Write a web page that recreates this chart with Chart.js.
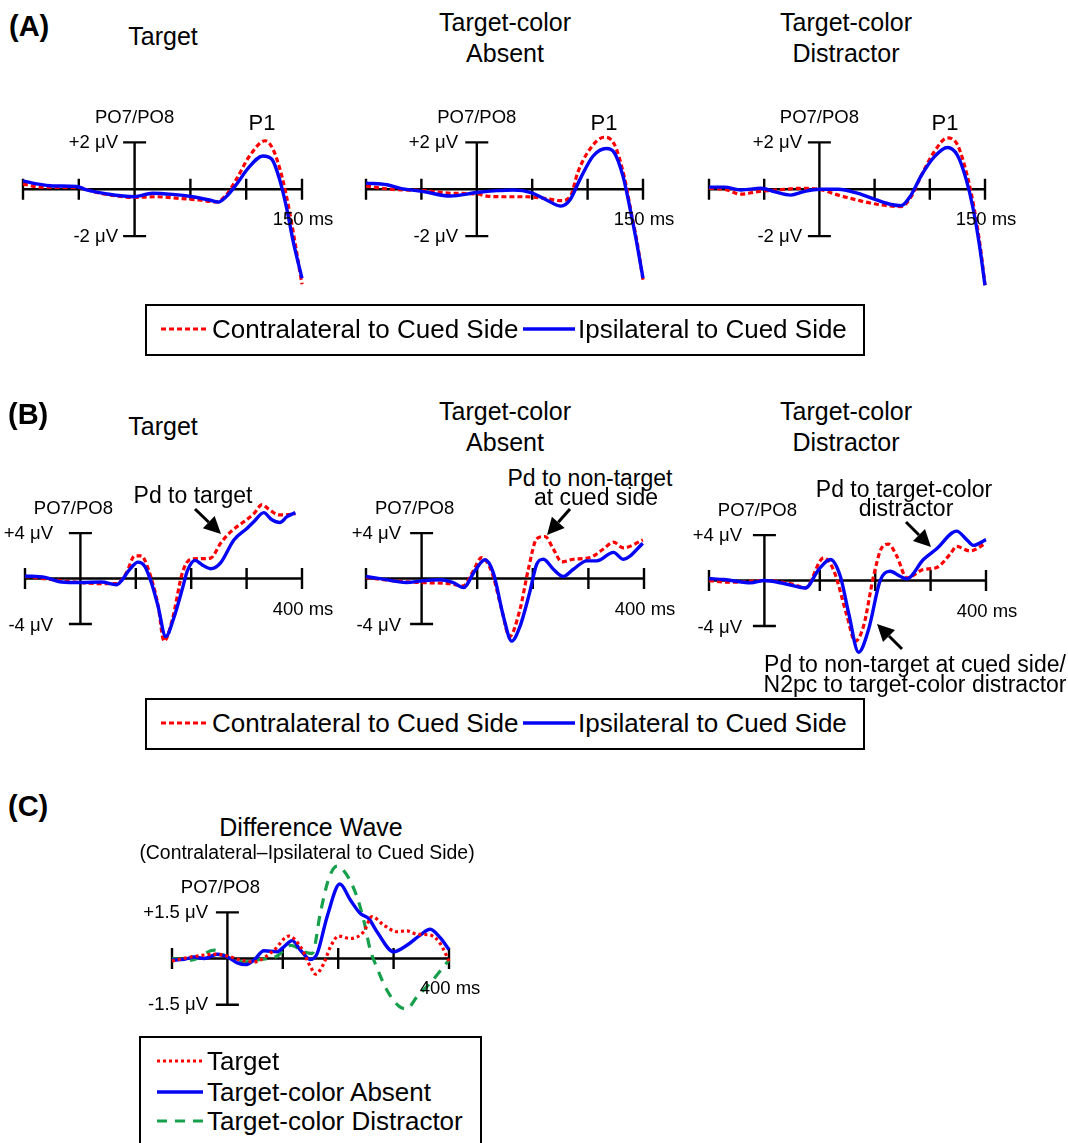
<!DOCTYPE html>
<html>
<head>
<meta charset="utf-8">
<script src="https://cdn.jsdelivr.net/npm/chart.js@4.4.1/dist/chart.umd.min.js"></script>
<style>
  html, body { margin: 0; padding: 0; background: #fff; }
  body {
    width: 1068px; height: 1143px; position: relative; overflow: hidden;
    font-family: "Liberation Sans", Arial, sans-serif; color: #000;
  }
  .plot { position: absolute; }
  .lbl { position: absolute; white-space: pre; line-height: 1; }
  .box { position: absolute; border: 2.5px solid #000; box-sizing: border-box; }
  #arrows { position: absolute; left: 0; top: 0; z-index: 5; }
</style>
</head>
<body>
<svg id="arrows" width="1068" height="1143"></svg>
<script>
// ---- data: [time (ms), amplitude (µV)] ----
const a1Contra = [[-100,0.23],[-85,0.09],[-52,0.07],[-31,-0.17],[0,-0.35],[19,-0.32],[40,-0.39],[58,-0.46],[73,-0.54],[82,-0.25],[91,0.41],[103,1.42],[117,2.07],[124,1.71],[132,0.55],[138,-0.75],[144,-2.35],[150,-4.06]];
const a1Ipsi = [[-100,0.36],[-88,0.23],[-73,0.14],[-52,0.12],[-43,-0.03],[-25,-0.2],[0,-0.32],[16,-0.17],[34,-0.22],[52,-0.32],[67,-0.46],[75,-0.55],[82,-0.32],[91,0.19],[102,0.91],[115,1.42],[123,1.28],[130,0.41],[136,-0.75],[142,-2.2],[150,-3.8]];
const a2Contra = [[-100,0.14],[-78,0],[-48,-0.06],[-24,-0.17],[0,-0.2],[9,-0.29],[27,-0.32],[45,-0.32],[61,-0.39],[76,-0.49],[85,-0.25],[91,0.7],[102,1.71],[115,2.22],[124,1.93],[133,0.55],[139,-0.9],[145,-2.35],[150,-3.87]];
const a2Ipsi = [[-100,0.26],[-81,0.19],[-69,0.04],[-48,-0.1],[-24,-0.29],[0,-0.14],[18,-0.06],[33,-0.03],[49,-0.14],[63,-0.46],[76,-0.72],[84,-0.46],[93,0.41],[105,1.42],[117,1.74],[124,1.57],[132,0.55],[138,-0.75],[144,-2.2],[150,-3.8]];
const a3Contra = [[-100,0.04],[-86,0],[-71,-0.21],[-56,-0.1],[-38,-0.03],[-17,0.04],[0,0],[17,-0.25],[35,-0.47],[53,-0.65],[74,-0.74],[83,-0.33],[92,0.56],[104,1.6],[116,2.19],[125,1.9],[134,0.56],[140,-0.77],[146,-2.55],[150,-4.1]];
const a3Ipsi = [[-100,0.09],[-86,0.09],[-71,-0.03],[-53,0.04],[-41,-0.1],[-26,-0.25],[-14,-0.1],[0,0],[17,0],[35,-0.18],[51,-0.44],[65,-0.65],[74,-0.7],[83,-0.25],[92,0.56],[104,1.38],[116,1.78],[125,1.45],[133,0.41],[139,-0.77],[145,-2.4],[150,-4.1]];

const b1Contra = [[-100,0.2],[-50,-0.1],[0,-0.35],[40,-0.45],[65,-0.45],[83,0.5],[98,2.0],[110,2.0],[122,0.9],[140,-2.3],[151,-5.5],[166,-3.6],[184,0.5],[199,1.7],[217,1.75],[235,1.8],[253,3.1],[271,4.1],[295,5.0],[313,5.7],[328,6.5],[340,6.1],[358,5.6],[370,5.6],[388,5.7]];
const b1Ipsi = [[-100,0.23],[-64,0.1],[-34,-0.3],[0,-0.35],[38,-0.3],[65,-0.55],[74,-0.2],[89,0.8],[104,1.45],[116,1.1],[128,-0.35],[140,-2.4],[154,-5.1],[169,-3.4],[184,-0.9],[193,0.67],[207,1.6],[220,1.2],[235,0.87],[253,1.39],[277,3.4],[301,4.43],[313,5.0],[331,5.8],[345,5.2],[360,4.93],[373,5.45],[388,5.8]];
const b2Contra = [[-100,0.1],[-50,-0.2],[0,-0.35],[50,-0.45],[75,-0.65],[92,0.6],[108,1.85],[126,0.6],[144,-2.7],[158,-5.1],[177,-2.7],[192,0.82],[207,3.5],[222,3.7],[237,2.6],[252,1.47],[273,1.7],[303,1.85],[327,2.6],[345,3.2],[363,2.7],[398,3.4]];
const b2Ipsi = [[-100,0.18],[-75,0],[-27,-0.35],[0,-0.2],[33,-0.1],[57,-0.35],[75,-0.8],[96,0.7],[114,1.65],[129,0.5],[147,-3.3],[162,-5.5],[177,-4.2],[195,-1.1],[207,1.26],[219,1.7],[237,0.82],[255,0.18],[273,0.82],[297,1.56],[315,1.56],[345,2.3],[363,1.7],[398,3.1]];
const b3Contra = [[-100,0],[-60,-0.15],[0,0],[50,-0.3],[74,-0.65],[107,2.0],[125,0.9],[149,-3.1],[164,-5.35],[179,-4],[197,0.38],[212,2.9],[224,3.2],[239,2.15],[257,0.24],[287,0.97],[311,1.15],[335,2.3],[347,3.0],[371,2.6],[400,3.3]];
const b3Ipsi = [[-100,0.18],[-73,0.09],[-25,-0.2],[0,0],[35,-0.26],[74,-0.65],[98,0.97],[119,1.85],[137,0.38],[152,-2.85],[170,-6.3],[188,-4.3],[209,0],[227,0.82],[245,0.38],[257,0.15],[287,1.85],[311,2.8],[347,4.35],[365,3.6],[377,3.1],[400,3.6]];

const cTarget = [[-100,-0.08],[-66,0.05],[-18,0.14],[0,0.08],[24,-0.05],[48,-0.11],[84,0.27],[111,0.73],[132,0.38],[150,-0.27],[159,-0.51],[174,-0.16],[186,0.38],[201,0.73],[222,0.65],[246,0.87],[261,1.36],[282,1.09],[306,0.87],[324,0.9],[342,0.79],[366,0.76],[384,0.49],[400,-0.08]];
const cAbsent = [[-100,-0.05],[-78,-0.03],[-60,0.05],[-42,0],[-18,0.14],[0,0.05],[18,-0.14],[33,-0.2],[48,-0.05],[66,0.25],[90,0.22],[102,0.38],[117,0.58],[132,0.27],[150,-0.03],[162,0.16],[180,1.36],[203,2.42],[222,1.9],[240,1.46],[255,1.3],[270,0.87],[300,0.22],[324,0.43],[348,0.76],[366,0.95],[384,0.68],[400,0.29]];
const cDistractor = [[-100,0],[-66,-0.05],[-24,0.27],[0,0.05],[30,-0.11],[60,-0.03],[90,0.08],[114,0.43],[138,0.22],[153,0.16],[168,1.5],[183,2.6],[198,3.0],[216,2.7],[234,2.0],[246,1.25],[258,0.27],[270,-0.3],[288,-1.03],[312,-1.58],[324,-1.63],[342,-1.25],[366,-0.8],[400,-0.05]];

const conditionTitles = [["Target"], ["Target-color", "Absent"], ["Target-color", "Distractor"]];
const legendLabelsAB = ["Contralateral to Cued Side", "Ipsilateral to Cued Side"];
const legendLabelsC = ["Target", "Target-color Absent", "Target-color Distractor"];
const channelName = "PO7/PO8";

// ---- line styles ----
const styles = {
  contra: { color: "#ff0000", width: 3.2, dash: [5, 3], order: 1 },
  ipsi: { color: "#0505f5", width: 3.4, dash: [], order: 0 },
  target: { color: "#ff0000", width: 3.2, dash: [3, 3], order: 0 },
  absent: { color: "#0505f5", width: 3.4, dash: [], order: 1 },
  distractor: { color: "#16a04c", width: 3.2, dash: [10, 8], order: 2 },
};

// the cross-shaped ERP axes, drawn under the waves
const erpAxes = {
  id: "erpAxes",
  beforeDatasetsDraw(chart, args, opts) {
    const { ctx, scales: { x, y } } = chart;
    const y0 = y.getPixelForValue(0);
    const x0 = x.getPixelForValue(0);
    ctx.save();
    ctx.strokeStyle = "#000";
    ctx.lineWidth = 2.4;
    ctx.beginPath();
    ctx.moveTo(x.getPixelForValue(x.min), y0);
    ctx.lineTo(x.getPixelForValue(x.max), y0);
    for (let t = x.min; t <= x.max; t += opts.step) {
      const px = x.getPixelForValue(t);
      ctx.moveTo(px, y0 - 10.5);
      ctx.lineTo(px, y0 + 10.5);
    }
    const yt = y.getPixelForValue(opts.cap);
    const yb = y.getPixelForValue(-opts.cap);
    ctx.moveTo(x0, yt); ctx.lineTo(x0, yb);
    ctx.moveTo(x0 - 11.5, yt); ctx.lineTo(x0 + 11.5, yt);
    ctx.moveTo(x0 - 11.5, yb); ctx.lineTo(x0 + 11.5, yb);
    ctx.stroke();
    ctx.restore();
  },
};

const PAD = 8;

function addText(txt, x, y, size, align, weight) {
  const d = document.createElement("div");
  d.className = "lbl";
  d.textContent = txt;
  d.style.left = x + "px";
  d.style.top = y + "px";
  d.style.fontSize = size + "px";
  const tx = align === "center" ? "-50%" : align === "right" ? "-100%" : "0";
  d.style.transform = `translate(${tx}, -50%)`;
  if (weight) d.style.fontWeight = weight;
  document.body.appendChild(d);
}

function addArrow(x1, y1, x2, y2) {
  const svg = document.getElementById("arrows");
  const ns = "http://www.w3.org/2000/svg";
  const a = Math.atan2(y2 - y1, x2 - x1);
  const hl = 17, hw = 8.5;
  const bx = x2 - hl * Math.cos(a), by = y2 - hl * Math.sin(a);
  const line = document.createElementNS(ns, "line");
  line.setAttribute("x1", x1); line.setAttribute("y1", y1);
  line.setAttribute("x2", bx); line.setAttribute("y2", by);
  line.setAttribute("stroke", "#000"); line.setAttribute("stroke-width", 3);
  svg.appendChild(line);
  const head = document.createElementNS(ns, "polygon");
  const pts = [
    [x2, y2],
    [bx + hw * Math.sin(a), by - hw * Math.cos(a)],
    [bx - hw * Math.sin(a), by + hw * Math.cos(a)],
  ];
  head.setAttribute("points", pts.map((p) => p.join(",")).join(" "));
  head.setAttribute("fill", "#000");
  svg.appendChild(head);
}

function makePlot(p) {
  const areaW = p.right - p.left;
  const areaH = (p.yMax - p.yMin) * p.ppu;
  const w = Math.round(areaW + 2 * PAD);
  const h = Math.round(areaH + 2 * PAD);
  const cv = document.createElement("canvas");
  cv.className = "plot";
  cv.width = w;
  cv.height = h;
  cv.style.width = w + "px";
  cv.style.height = h + "px";
  cv.style.left = p.left - PAD + "px";
  cv.style.top = p.zeroY - p.yMax * p.ppu - PAD + "px";
  document.body.appendChild(cv);

  const datasets = p.series.map(([data, key]) => {
    const s = styles[key];
    return {
      data: data.map(([t, v]) => ({ x: t, y: v })),
      borderColor: s.color,
      borderWidth: s.width,
      borderDash: s.dash,
      order: s.order,
      pointRadius: 0,
      cubicInterpolationMode: "monotone",
      fill: false,
      clip: false,
    };
  });

  new Chart(cv, {
    type: "line",
    data: { datasets },
    options: {
      responsive: false,
      animation: false,
      devicePixelRatio: 1,
      events: [],
      layout: { padding: PAD },
      plugins: {
        legend: { display: false },
        tooltip: { enabled: false },
        erpAxes: { step: p.step, cap: p.cap },
      },
      scales: {
        x: { type: "linear", min: p.xMin, max: p.xMax, display: false },
        y: { min: p.yMin, max: p.yMax, display: false },
      },
    },
    plugins: [erpAxes],
  });

  // axis labels
  const axisX = p.left + ((0 - p.xMin) / (p.xMax - p.xMin)) * areaW;
  const sign = (v) => (v > 0 ? "+" : "-") + v.toString().replace("-", "");
  addText(sign(p.cap) + " μV", p.labelRight, p.zeroY - p.cap * p.ppu, 18.5, "right");
  addText(sign(-p.cap) + " μV", p.labelRight, p.zeroY + p.cap * p.ppu, 18.5, "right");
  addText(channelName, axisX + p.chanDx, p.zeroY - p.cap * p.ppu - 25, 18.5, "center");
  addText(p.xMax + " ms", p.right + 1, p.zeroY + 30, 18.5, "center");
  if (p.peakLabel) addText("P1", p.peakLabel, 123, 22, "center");
}

const plotsA = [
  { left: 23, right: 302, zeroY: 189, labelRight: 118, peakLabel: 262, series: [[a1Contra, "contra"], [a1Ipsi, "ipsi"]] },
  { left: 366, right: 643, zeroY: 189, labelRight: 458, peakLabel: 604, series: [[a2Contra, "contra"], [a2Ipsi, "ipsi"]] },
  { left: 709, right: 985, zeroY: 189, labelRight: 802, peakLabel: 945, series: [[a3Contra, "contra"], [a3Ipsi, "ipsi"]] },
];
plotsA.forEach((p) =>
  makePlot({ ...p, ppu: 23.4, xMin: -100, xMax: 150, yMin: -4.6, yMax: 2.7, step: 50, cap: 2, chanDx: 0 })
);

const plotsB = [
  { left: 25, right: 302, zeroY: 579, labelRight: 53, series: [[b1Contra, "contra"], [b1Ipsi, "ipsi"]] },
  { left: 366, right: 644, zeroY: 579, labelRight: 401, series: [[b2Contra, "contra"], [b2Ipsi, "ipsi"]] },
  { left: 709, right: 986, zeroY: 581, labelRight: 742, series: [[b3Contra, "contra"], [b3Ipsi, "ipsi"]] },
];
plotsB.forEach((p) =>
  makePlot({ ...p, ppu: 11.4, xMin: -100, xMax: 400, yMin: -6.9, yMax: 7, step: 100, cap: 4, chanDx: -7 })
);

makePlot({
  left: 172, right: 449, zeroY: 958, ppu: 30.7, xMin: -100, xMax: 400, yMin: -1.9, yMax: 3.2,
  step: 100, cap: 1.5, chanDx: -7, labelRight: 208,
  series: [[cTarget, "target"], [cAbsent, "absent"], [cDistractor, "distractor"]],
});

// ---- panel letters and titles ----
addText("(A)", 9, 26, 29, "left", "bold");
addText("(B)", 8, 414, 29, "left", "bold");
addText("(C)", 8, 806, 29, "left", "bold");
const titleX = [163, 505, 846];
conditionTitles.forEach((lines, i) => {
  if (lines.length === 1) {
    addText(lines[0], titleX[i], 36, 25, "center");
    addText(lines[0], titleX[i], 426, 25, "center");
  } else {
    addText(lines[0], titleX[i], 22, 25, "center");
    addText(lines[1], titleX[i], 53, 25, "center");
    addText(lines[0], titleX[i], 411, 25, "center");
    addText(lines[1], titleX[i], 442, 25, "center");
  }
});
addText("Difference Wave", 311, 827, 25, "center");
addText("(Contralateral\u2013Ipsilateral to Cued Side)", 307, 853, 19.4, "center");

// ---- annotations ----
addText("Pd to target", 193, 495, 23, "center");
addArrow(195, 509, 221, 534);
addText("Pd to non-target", 590, 478, 23, "center");
addText("at cued side", 596, 497, 23, "center");
addArrow(570, 509, 547, 535);
addText("Pd to target-color", 904, 489, 23, "center");
addText("distractor", 906, 508, 23, "center");
addArrow(906, 522, 931, 547);
addText("Pd to non-target at cued side/", 915, 664, 23, "center");
addText("N2pc to target-color distractor", 915, 684, 23, "center");
addArrow(902, 649, 877, 624);

// ---- legends ----
function legendSample(x1, x2, y, key) {
  const s = styles[key];
  const svg = document.getElementById("arrows");
  const ln = document.createElementNS("http://www.w3.org/2000/svg", "line");
  ln.setAttribute("x1", x1); ln.setAttribute("y1", y);
  ln.setAttribute("x2", x2); ln.setAttribute("y2", y);
  ln.setAttribute("stroke", s.color);
  ln.setAttribute("stroke-width", s.width);
  if (s.dash.length) ln.setAttribute("stroke-dasharray", s.dash.join(" "));
  svg.appendChild(ln);
}

function addBox(x, y, w, h) {
  const b = document.createElement("div");
  b.className = "box";
  b.style.left = x + "px";
  b.style.top = y + "px";
  b.style.width = w + "px";
  b.style.height = h + "px";
  document.body.appendChild(b);
}

[304, 698].forEach((top) => {
  addBox(145, top, 720, 52);
  const cy = top + 25;
  legendSample(161, 208, cy, "contra");
  addText(legendLabelsAB[0], 212, cy, 26, "left");
  legendSample(523, 575, cy, "ipsi");
  addText(legendLabelsAB[1], 578, cy, 26, "left");
});

addBox(139, 1036, 343, 140);
const cKeys = ["target", "absent", "distractor"];
const cRows = [1061, 1092, 1121];
legendLabelsC.forEach((lab, i) => {
  legendSample(157, 203, cRows[i], cKeys[i]);
  addText(lab, 207, cRows[i], 26, "left");
});
</script>
</body>
</html>
